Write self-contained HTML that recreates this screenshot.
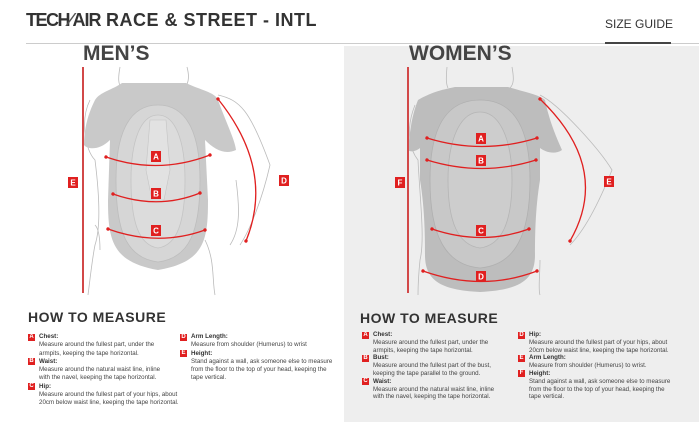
<!DOCTYPE html>
<html><head><meta charset="utf-8"><style>
*{margin:0;padding:0;box-sizing:border-box}
body{width:699px;height:422px;overflow:hidden;background:#fff;font-family:"Liberation Sans",sans-serif;position:relative;color:#333}
.a{position:absolute}
.t{font-size:6.2px;line-height:8.3px;color:#444;white-space:nowrap}
.w{line-height:7.8px}
.t b{color:#333}
.k{display:inline-block;width:7px;height:7px;background:#e02020;color:#fff;font-size:6px;line-height:7px;text-align:center;font-weight:bold;vertical-align:top}
.it{position:relative;padding-left:11px}
.it .k{position:absolute;left:0;top:0.5px}
</style></head><body>
<div class="a" style="left:344px;top:46px;width:355px;height:376px;background:#eeeeee"></div>
<div class="a" style="left:26px;top:10px;font-size:18px;font-weight:bold;color:#333;letter-spacing:0.5px;white-space:nowrap"><span style="letter-spacing:-1.5px">TECH</span><span style="font-style:italic;color:#555">⁄</span><span style="letter-spacing:-1px">AIR</span> RACE &amp; STREET - INTL</div>
<div class="a" style="left:605px;top:17px;font-size:12px;color:#333">SIZE GUIDE</div>
<div class="a" style="left:26px;top:43px;width:673px;height:1px;background:#ccc"></div>
<div class="a" style="left:605px;top:42px;width:66px;height:2px;background:#444"></div>
<div class="a" style="left:83px;top:42px;font-size:21px;font-weight:bold;color:#444">MEN’S</div>
<div class="a" style="left:409px;top:42px;font-size:21px;font-weight:bold;color:#444">WOMEN’S</div>

<svg class="a" style="left:0;top:0" width="699" height="422" viewBox="0 0 699 422">
<defs><marker id="m" markerWidth="4" markerHeight="4" refX="2" refY="2" orient="auto"><circle cx="2" cy="2" r="1.3" fill="#e02020"/></marker></defs>
<g fill="none" stroke="#bbb" stroke-width="0.8">
<path d="M120,67 C118,78 118,85 122,88 M187,67 C190,78 188,85 184,88"/>
<path d="M90,100 C80,120 85,150 95,160 C100,200 100,230 95,245 C92,260 90,280 88,295 M218,95 C240,100 250,110 270,165 C262,200 250,230 240,245 M205,240 C215,260 212,280 215,295"/>
<path d="M95,225 C100,230 100,245 100,250 M236,180 C240,210 240,230 230,245"/>
<path d="M447,67 C446,78 446,84 448,88 M512,67 C514,78 514,84 510,88"/>
<path d="M415,105 C405,130 410,150 418,160 C420,200 425,240 420,260 C418,280 418,290 418,295 M540,95 C560,105 600,150 612,170 C600,200 585,230 570,245 M540,260 C540,275 538,290 540,295"/>
</g>
<path d="M122,83 L186,83 C200,90 215,92 218,100 C225,120 235,140 236,150 C225,155 215,150 205,140 L208,200 C208,240 205,262 158,270 C112,262 108,240 108,200 L110,140 C100,150 88,150 84,145 C84,125 90,110 95,100 C100,92 112,90 122,83Z" fill="#c9c9c9"/>
<path d="M158,105 C185,105 200,130 200,180 C200,230 190,258 158,262 C126,258 116,230 116,180 C116,130 131,105 158,105Z" fill="#d6d6d6" stroke="#bdbdbd" stroke-width="0.8"/>
<path d="M158,115 C175,115 185,140 185,180 C185,220 178,245 158,248 C138,245 131,220 131,180 C131,140 141,115 158,115Z" fill="#dcdcdc" stroke="#c4c4c4" stroke-width="0.8"/>
<path d="M150,120 L166,120 L170,170 L164,200 L152,200 L146,170Z" fill="#e2e2e2" stroke="#c4c4c4" stroke-width="0.6"/>
<path d="M455,87 L508,87 C525,92 540,95 545,100 C550,125 560,145 562,150 C555,155 545,152 540,148 L540,180 C535,210 535,240 535,255 C535,280 520,290 480,292 C440,290 425,280 425,255 C425,240 425,210 420,180 L420,148 C415,152 410,152 408,150 C410,130 412,115 418,100 C430,93 440,90 455,87Z" fill="#bdbdbd"/>
<path d="M480,100 C515,100 530,130 530,180 C530,235 515,265 480,268 C445,265 430,235 430,180 C430,130 445,100 480,100Z" fill="#c8c8c8" stroke="#b0b0b0" stroke-width="0.8"/>
<path d="M480,112 C500,112 512,140 512,180 C512,222 502,245 480,248 C458,245 448,222 448,180 C448,140 460,112 480,112Z" fill="#cdcdcd" stroke="#b5b5b5" stroke-width="0.8"/>
<g stroke="#e02020" stroke-width="1.3" fill="none" marker-start="url(#m)" marker-end="url(#m)">
<path d="M106,157 Q158,175 210,155"/>
<path d="M113,194 Q158,210 200,193"/>
<path d="M108,229 Q158,247 205,230"/>
<path d="M218,99 Q275,170 246,241"/>
<path d="M427,138 Q482,155 537,138"/>
<path d="M427,160 Q482,177 536,160"/>
<path d="M432,229 Q482,246 529,229"/>
<path d="M423,271 Q482,292 537,271"/>
<path d="M540,99 Q612,168 570,241"/>
</g>
<rect x="82" y="67" width="2" height="226" fill="#d24848"/>
<rect x="407" y="67" width="2" height="226" fill="#d24848"/>
<g font-family="Liberation Sans" font-size="8" font-weight="bold" fill="#fff" text-anchor="middle">
<rect x="151" y="151" width="10" height="11" fill="#e02020"/><text x="156" y="159.5">A</text>
<rect x="151" y="188" width="10" height="11" fill="#e02020"/><text x="156" y="196.5">B</text>
<rect x="151" y="225" width="10" height="11" fill="#e02020"/><text x="156" y="233.5">C</text>
<rect x="279" y="175" width="10" height="11" fill="#e02020"/><text x="284" y="183.5">D</text>
<rect x="68" y="177" width="10" height="11" fill="#e02020"/><text x="73" y="185.5">E</text>
<rect x="476" y="133" width="10" height="11" fill="#e02020"/><text x="481" y="141.5">A</text>
<rect x="476" y="155" width="10" height="11" fill="#e02020"/><text x="481" y="163.5">B</text>
<rect x="476" y="225" width="10" height="11" fill="#e02020"/><text x="481" y="233.5">C</text>
<rect x="476" y="271" width="10" height="11" fill="#e02020"/><text x="481" y="279.5">D</text>
<rect x="604" y="176" width="10" height="11" fill="#e02020"/><text x="609" y="184.5">E</text>
<rect x="395" y="177" width="10" height="11" fill="#e02020"/><text x="400" y="185.5">F</text>
</g>
</svg>

<div class="a" style="left:28px;top:309px;font-size:14px;font-weight:bold;color:#333;letter-spacing:0.5px">HOW TO MEASURE</div>
<div class="a t" style="left:28px;top:333px">
<div class="it"><span class="k">A</span><b>Chest:</b><br>Measure around the fullest part, under the<br>armpits, keeping the tape horizontal.</div>
<div class="it"><span class="k">B</span><b>Waist:</b><br>Measure around the natural waist line, inline<br>with the navel, keeping the tape horizontal.</div>
<div class="it"><span class="k">C</span><b>Hip:</b><br>Measure around the fullest part of your hips, about<br>20cm below waist line, keeping the tape horizontal.</div>
</div>
<div class="a t" style="left:180px;top:333px">
<div class="it"><span class="k">D</span><b>Arm Length:</b><br>Measure from shoulder (Humerus) to wrist</div>
<div class="it"><span class="k">E</span><b>Height:</b><br>Stand against a wall, ask someone else to measure<br>from the floor to the top of your head, keeping the<br>tape vertical.</div>
</div>

<div class="a" style="left:360px;top:310px;font-size:14px;font-weight:bold;color:#333;letter-spacing:0.5px">HOW TO MEASURE</div>
<div class="a t w" style="left:362px;top:331px">
<div class="it"><span class="k">A</span><b>Chest:</b><br>Measure around the fullest part, under the<br>armpits, keeping the tape horizontal.</div>
<div class="it"><span class="k">B</span><b>Bust:</b><br>Measure around the fullest part of the bust,<br>keeping the tape parallel to the ground.</div>
<div class="it"><span class="k">C</span><b>Waist:</b><br>Measure around the natural waist line, inline<br>with the navel, keeping the tape horizontal.</div>
</div>
<div class="a t w" style="left:518px;top:331px">
<div class="it"><span class="k">D</span><b>Hip:</b><br>Measure around the fullest part of your hips, about<br>20cm below waist line, keeping the tape horizontal.</div>
<div class="it"><span class="k">E</span><b>Arm Length:</b><br>Measure from shoulder (Humerus) to wrist.</div>
<div class="it"><span class="k">F</span><b>Height:</b><br>Stand against a wall, ask someone else to measure<br>from the floor to the top of your head, keeping the<br>tape vertical.</div>
</div>
</body></html>
